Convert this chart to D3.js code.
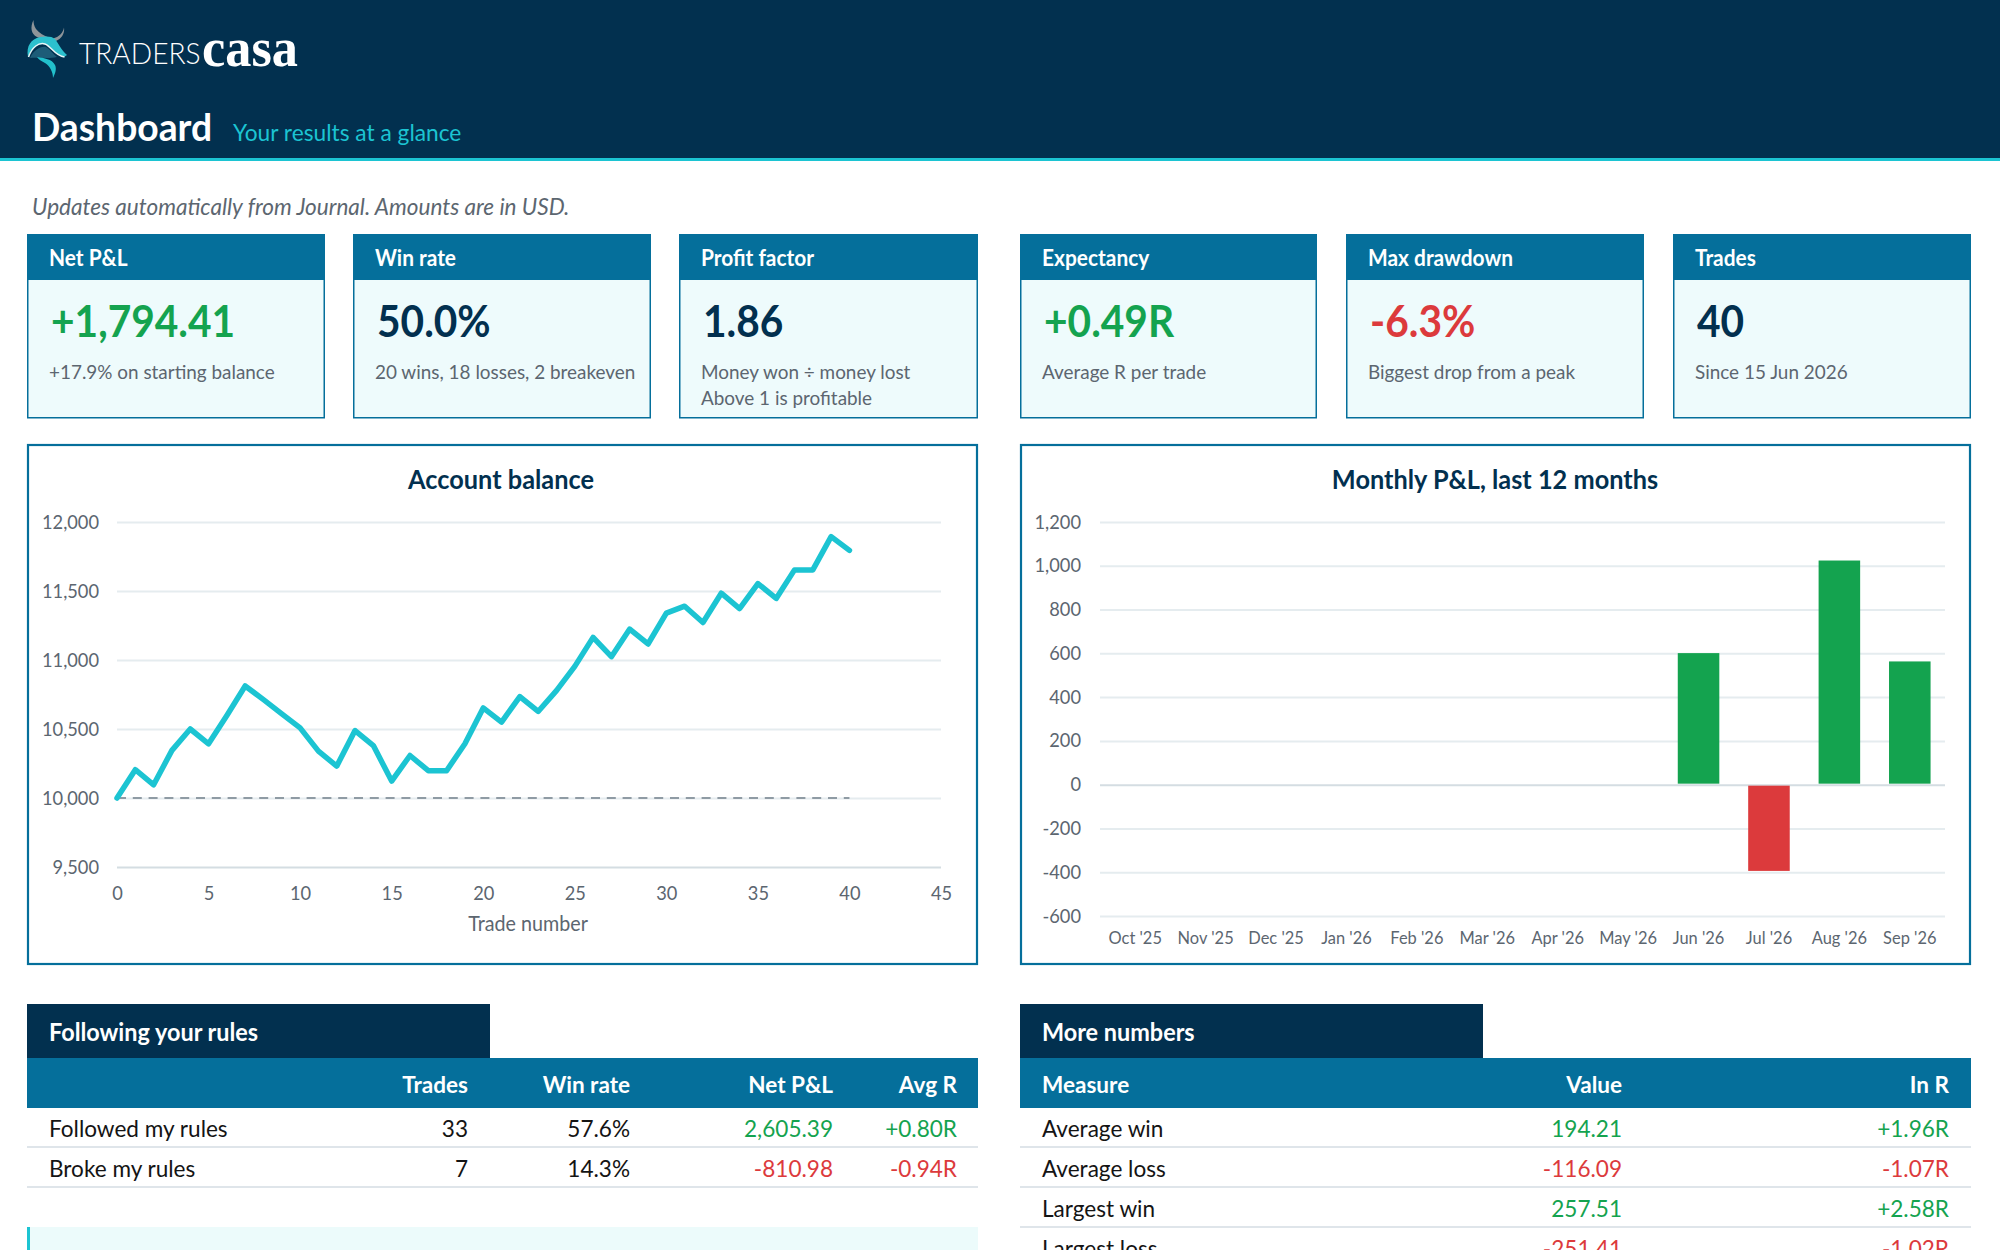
<!DOCTYPE html>
<html>
<head>
<meta charset="utf-8">
<title>Dashboard</title>
<script src="https://cdn.jsdelivr.net/npm/d3@7/dist/d3.min.js"></script>
<style>
  html, body { margin: 0; padding: 0; background: #fff; overflow: hidden; }
  svg { display: block; }
  text { font-family: Lato, "Open Sans", sans-serif; }
  .domain { display: none; }
</style>
</head>
<body>
<svg id="board" width="2000" height="1250"></svg>
<script>
// Data
var balanceValues = [10000, 10205, 10096, 10345, 10500, 10393, 10598, 10812, 10713, 10610,
  10508, 10340, 10231, 10489, 10380, 10123, 10308, 10198, 10198, 10393,
  10653, 10550, 10735, 10627, 10778, 10954, 11164, 11024, 11224, 11116,
  11340, 11390, 11272, 11484, 11373, 11554, 11446, 11653, 11653, 11894, 11794];
var startBalance = 10000;
var balanceTicks = [9500, 10000, 10500, 11000, 11500, 12000];
var tradeTicks = [0, 5, 10, 15, 20, 25, 30, 35, 40, 45];

var months = ["Oct '25", "Nov '25", "Dec '25", "Jan '26", "Feb '26", "Mar '26",
  "Apr '26", "May '26", "Jun '26", "Jul '26", "Aug '26", "Sep '26"];
var monthlyPnl = [0, 0, 0, 0, 0, 0, 0, 0, 601, -394, 1024, 563];
var pnlTicks = [-600, -400, -200, 0, 200, 400, 600, 800, 1000, 1200];

var cardTitles = ["Net P&L", "Win rate", "Profit factor", "Expectancy", "Max drawdown", "Trades"];
var cardValues = ["+1,794.41", "50.0%", "1.86", "+0.49R", "-6.3%", "40"];
var cardTones = ["pos", "plain", "plain", "pos", "neg", "plain"];
var cardNotes = [
  ["+17.9% on starting balance"],
  ["20 wins, 18 losses, 2 breakeven"],
  ["Money won \u00f7 money lost", "Above 1 is profitable"],
  ["Average R per trade"],
  ["Biggest drop from a peak"],
  ["Since 15 Jun 2026"]
];

var rulesHeads = ["", "Trades", "Win rate", "Net P&L", "Avg R"];
var rulesRows = [
  ["Followed my rules", "33", "57.6%", "2,605.39", "+0.80R"],
  ["Broke my rules", "7", "14.3%", "-810.98", "-0.94R"]
];
var moreHeads = ["Measure", "Value", "In R"];
var moreRows = [
  ["Average win", "194.21", "+1.96R"],
  ["Average loss", "-116.09", "-1.07R"],
  ["Largest win", "257.51", "+2.58R"],
  ["Largest loss", "-251.41", "-1.02R"]
];

(function(d3){

  //Private
  var NAVY = "#02304f", BLUE = "#056f9b", TEAL = "#1cc4d2", GREEN = "#14a34f", RED = "#dc3a3c";
  var GREY = "#5c6670", PALE = "#eefbfc", GRID = "#e5ecef", GRID_DARK = "#d4dde2";

  var svg = d3.select("#board");
  var groupFormat = d3.format(",");

  function tone(name) {
    return name === "pos" ? GREEN : name === "neg" ? RED : NAVY;
  }

  function signTone(str) {
    return str.charAt(0) === "-" ? RED : GREEN;
  }

  function squeeze(sel, k) {
    sel.each(function() {
      var len = this.getComputedTextLength();
      if (len > 0) {
        d3.select(this).attr("textLength", len * k).attr("lengthAdjust", "spacingAndGlyphs");
      }
    });
  }

  function label(parent, x, y, str, size, color, opts) {
    opts = opts || {};
    var t = parent.append("text")
      .attr("x", x).attr("y", y)
      .attr("font-size", size)
      .attr("fill", color)
      .attr("font-weight", opts.weight || 400)
      .attr("font-style", opts.italic ? "italic" : "normal")
      .attr("text-anchor", opts.anchor || "start")
      .text(str);
    if (opts.family) t.style("font-family", opts.family);
    squeeze(t, opts.squeeze || 0.96);
    return t;
  }

  function rect(parent, x, y, w, h, fill) {
    return parent.append("rect").attr("x", x).attr("y", y).attr("width", w).attr("height", h).attr("fill", fill);
  }

  function drawLogo() {
    var g = svg.append("g").attr("transform", "translate(20,15)");
    // horns
    g.append("path").attr("fill", "#8d9499")
      .attr("d", "M13.5 5 C10 12 11 19 17 22 C21 24 26 24 30 23 C24 21 19 18 16 14 C14 11 13.5 8 13.5 5 Z");
    g.append("path").attr("fill", "#8d9499")
      .attr("d", "M44 12.5 C43 18 39 22 33 23.5 L36 26 C41 24 45 19 44 12.5 Z");
    // head
    g.append("path").attr("fill", "#2cc0ce")
      .attr("d", "M8 42 C6 31 11 24 20 22 C26 21 32 21 35 24 C39 29 41 35 47 40 L44 42 C38 41 34 36 30 32 C25 27 14 27 8 42 Z");
    g.append("path").attr("fill", "#1d5c78")
      .attr("d", "M10 43 C14 35 20 31 26 32 C30 34 33 39 37 42 C28 44 18 42 10 43 Z");
    g.append("path").attr("fill", "none").attr("stroke", "#e8f6f8").attr("stroke-width", 1.5)
      .attr("d", "M8.5 42 C12 32 19 27 25 29 C31 31 35 41 44.5 42");
    // tail
    g.append("path").attr("fill", "#22c0cc")
      .attr("d", "M17 42 C24 43 32 44 35 50 C37 54 35 59 33 63 C33 57 30 51 25 48 C22 46 19 45 17 42 Z");
    label(svg, 79, 64, "TRADERS", 29, "#ffffff", {weight: 300, squeeze: 0.97});
    label(svg, 202, 66, "casa", 54, "#ffffff", {family: '"Liberation Serif", serif', weight: 700, squeeze: 0.97});
  }

  function drawHeader() {
    rect(svg, 0, 0, 2000, 158, NAVY);
    rect(svg, 0, 158, 2000, 3, TEAL);
    drawLogo();
    label(svg, 32, 141, "Dashboard", 38, "#ffffff", {weight: 700, squeeze: 0.98});
    label(svg, 233, 141, "Your results at a glance", 22.5, TEAL, {squeeze: 1.01});
    label(svg, 32, 215, "Updates automatically from Journal. Amounts are in USD.", 23, GREY, {italic: true, squeeze: 0.98});
  }

  function drawCards() {
    var lefts = [27, 353, 679, 1020, 1346, 1673];
    var rights = [325, 651, 978, 1317, 1644, 1971];

    cardTitles.forEach(function(title, i) {
      var x = lefts[i], w = rights[i] - lefts[i];
      var g = svg.append("g").attr("transform", "translate(" + x + ",234)");
      rect(g, 0.75, 0.75, w - 1.5, 183, PALE).attr("stroke", BLUE).attr("stroke-width", 1.5);
      rect(g, 0, 0, w, 46, BLUE);
      label(g, 22, 32, title, 22, "#ffffff", {weight: 700, squeeze: 0.95});
      label(g, 24, 103, cardValues[i], 43, tone(cardTones[i]), {weight: 700, squeeze: 0.945});
      cardNotes[i].forEach(function(note, k) {
        label(g, 22, 145 + k * 26, note, 20, GREY, {squeeze: 0.945});
      });
    });
  }

  function panel(left, right) {
    return rect(svg, left + 1, 445, right - left - 2, 519, "#ffffff")
      .attr("stroke", BLUE).attr("stroke-width", 2.2);
  }

  function styleAxis(g, size, k) {
    g.selectAll("text").attr("font-size", size).attr("fill", GREY);
    squeeze(g.selectAll("text"), k);
  }

  function minusFormat(v) {
    return groupFormat(v).replace("\u2212", "-");
  }

  function chartTitle(x, str) {
    label(svg, x, 489, str, 26, NAVY, {weight: 700, anchor: "middle", squeeze: 0.974});
  }

  function drawBalance() {
    panel(27, 978);
    chartTitle(501, "Account balance");

    var x = d3.scaleLinear().domain([0, 45]).range([117, 941]);
    var y = d3.scaleLinear().domain([9500, 12000]).range([867, 522]);

    var yAxis = svg.append("g").attr("transform", "translate(117,0)")
      .call(d3.axisLeft(y).tickValues(balanceTicks).tickFormat(minusFormat).tickSize(-824).tickPadding(18));
    yAxis.selectAll("line").attr("stroke", GRID).attr("stroke-width", 2);
    yAxis.selectAll(".tick").filter(function(d) { return d === 9500; })
      .select("line").attr("stroke", GRID_DARK);
    styleAxis(yAxis, 19, 0.96);

    var xAxis = svg.append("g").attr("transform", "translate(0,867)")
      .call(d3.axisBottom(x).tickValues(tradeTicks).tickSize(0).tickPadding(20));
    styleAxis(xAxis, 19, 0.96);

    label(svg, 528, 931, "Trade number", 20.5, GREY, {anchor: "middle", squeeze: 0.962});

    svg.append("line")
      .attr("x1", x(0)).attr("x2", x(balanceValues.length - 1))
      .attr("y1", y(startBalance)).attr("y2", y(startBalance))
      .attr("stroke", "#8f9ba4").attr("stroke-width", 2).attr("stroke-dasharray", "9 6.8");

    var line = d3.line().x(function(d, i) { return x(i); }).y(function(d) { return y(d); });
    svg.append("path").datum(balanceValues)
      .attr("d", line)
      .attr("fill", "none").attr("stroke", TEAL).attr("stroke-width", 5.5)
      .attr("stroke-linejoin", "round").attr("stroke-linecap", "round");
  }

  function drawMonthly() {
    panel(1020, 1971);
    chartTitle(1495, "Monthly P&L, last 12 months");

    var x = d3.scaleBand().domain(months).range([1100, 1945]).paddingInner(0.41).paddingOuter(0.205);
    var y = d3.scaleLinear().domain([-600, 1200]).range([916, 522]);

    var yAxis = svg.append("g").attr("transform", "translate(1100,0)")
      .call(d3.axisLeft(y).tickValues(pnlTicks).tickFormat(minusFormat).tickSize(-845).tickPadding(19));
    yAxis.selectAll("line").attr("stroke", GRID).attr("stroke-width", 2);
    yAxis.selectAll(".tick").filter(function(d) { return d === 0; })
      .select("line").attr("stroke", GRID_DARK);
    styleAxis(yAxis, 19, 0.96);

    var xAxis = svg.append("g").attr("transform", "translate(0,916)")
      .call(d3.axisBottom(x).tickSize(0).tickPadding(16));
    styleAxis(xAxis, 17, 0.967);

    svg.append("g").selectAll("rect").data(monthlyPnl).enter()
      .append("rect")
      .attr("x", function(d, i) { return x(months[i]); })
      .attr("width", x.bandwidth())
      .attr("y", function(d) { return d > 0 ? y(d) : y(0) + 1; })
      .attr("height", function(d) { return Math.max(0, Math.abs(y(d) - y(0)) - 1); })
      .attr("fill", function(d) { return d > 0 ? GREEN : RED; });
  }

  function drawTable(opts) {
    var left = opts.left, width = opts.width, rowH = 40;

    rect(svg, left, 1004, opts.tabWidth, 54, NAVY);
    label(svg, left + 22, 1041, opts.title, 24.5, "#ffffff", {weight: 700, squeeze: 0.956});
    rect(svg, left, 1058, width, 50, BLUE);

    opts.heads.forEach(function(head, c) {
      if (!head) return;
      label(svg, opts.columns[c], 1093, head, 23, "#ffffff", {weight: 700, anchor: c === 0 ? "start" : "end", squeeze: 0.98});
    });

    opts.rows.forEach(function(row, r) {
      var base = 1137 + r * rowH;
      row.forEach(function(cell, c) {
        var color = c === 0 || opts.plain.indexOf(c) >= 0 ? "#141414" : signTone(cell);
        label(svg, opts.columns[c], base, cell, 24, color, {anchor: c === 0 ? "start" : "end", squeeze: 0.94});
      });
      rect(svg, left, base + 9, width, 2, "#dfe5ea");
    });
  }

  //Public
  drawHeader();
  drawCards();
  drawBalance();
  drawMonthly();

  drawTable({
    left: 27, width: 951, tabWidth: 463, title: "Following your rules",
    heads: rulesHeads, rows: rulesRows, plain: [1, 2],
    columns: [49, 468, 630, 833, 957]
  });
  drawTable({
    left: 1020, width: 951, tabWidth: 463, title: "More numbers",
    heads: moreHeads, rows: moreRows, plain: [],
    columns: [1042, 1622, 1949]
  });

  // callout strip below the rules table
  rect(svg, 27, 1227, 951, 23, "#ecfbfb");
  rect(svg, 27, 1227, 3, 23, TEAL);

})(d3);
</script>
</body>
</html>
